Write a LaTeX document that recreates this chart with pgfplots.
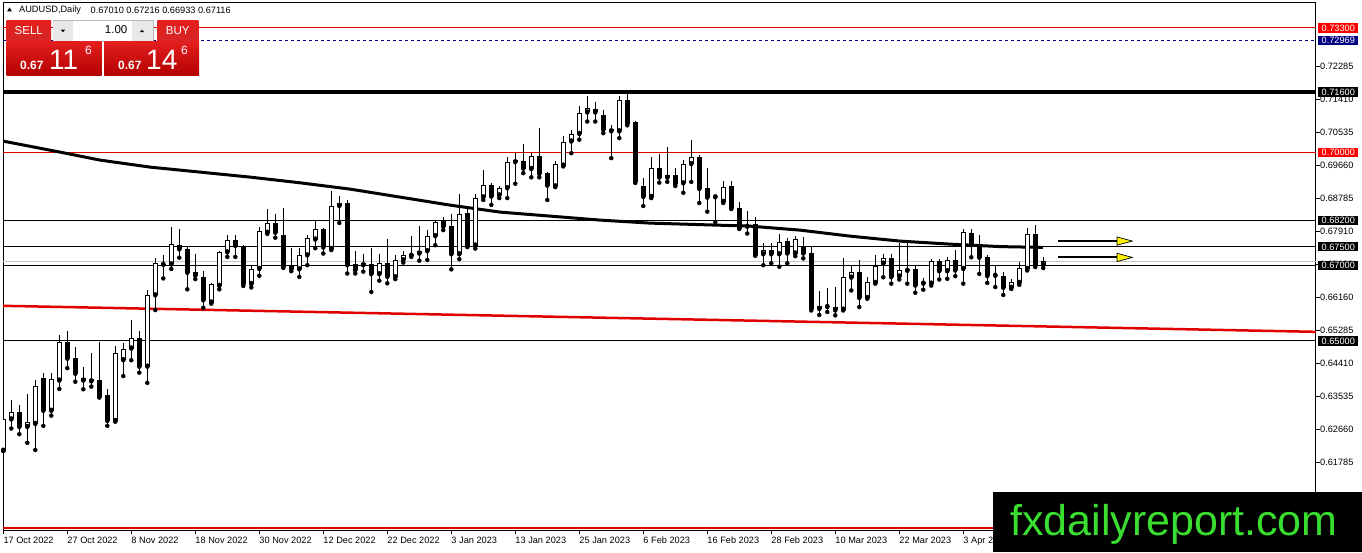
\documentclass[border=0pt]{standalone}
\usepackage{pgfplots}
\pgfplotsset{compat=1.18}
\usepackage{pgfplotstable}
\usepackage{fontspec}
\setmainfont{Liberation Sans}
\usetikzlibrary{arrows.meta}
\definecolor{mtred}{RGB}{225,0,0}
\definecolor{tagred}{RGB}{255,0,0}
\definecolor{navyblue}{RGB}{0,0,128}
\definecolor{wmgreen}{RGB}{58,222,48}
\definecolor{btnhead}{RGB}{214,38,38}
\definecolor{btntop}{RGB}{228,30,30}
\definecolor{btnbot}{RGB}{178,0,0}

\pgfplotstableread{
i o h l c
0 .6209 .6317 .6208 .6292
1 .6292 .6343 .6268 .6312
2 .6313 .6330 .6253 .6272
3 .6272 .6359 .6230 .6284
4 .6280 .6396 .6211 .6380
5 .6401 .6414 .6275 .6315
6 .6315 .6414 .6302 .6398
7 .6395 .6516 .6373 .6498
8 .6498 .6526 .6428 .6453
9 .6454 .6483 .6392 .6413
10 .6403 .6430 .6372 .6395
11 .6398 .6467 .6379 .6393
12 .6396 .6498 .6350 .6352
13 .6356 .6374 .6275 .6288
14 .6288 .6486 .6286 .6467
15 .6449 .6494 .6407 .6480
16 .6480 .6555 .6449 .6507
17 .6507 .6526 .6416 .6432
18 .6432 .6635 .6389 .6621
19 .6621 .6721 .6582 .6706
20 .6705 .6728 .6666 .6702
21 .6703 .6801 .6691 .6756
22 .6754 .6797 .6721 .6743
23 .6744 .6748 .6637 .6681
24 .6682 .6732 .6664 .6673
25 .6669 .6685 .6588 .6608
26 .6602 .6655 .6599 .6651
27 .6646 .6738 .6637 .6735
28 .6735 .6781 .6723 .6768
29 .6768 .6781 .6723 .6752
30 .6750 .6754 .6646 .6651
31 .6651 .6701 .6642 .6691
32 .6691 .6801 .6673 .6791
33 .6787 .6850 .6784 .6812
34 .6812 .6838 .6774 .6787
35 .6781 .6854 .6694 .6697
36 .6699 .6746 .6685 .6690
37 .6690 .6746 .6670 .6727
38 .6727 .6782 .6701 .6772
39 .6769 .6818 .6746 .6796
40 .6796 .6799 .6732 .6748
41 .6744 .6898 .6741 .6858
42 .6858 .6884 .6813 .6865
43 .6866 .6874 .6679 .6701
44 .6703 .6739 .6679 .6687
45 .6706 .6732 .6684 .6701
46 .6703 .6746 .6630 .6677
47 .6677 .6730 .6660 .6708
48 .6708 .6770 .6653 .6670
49 .6669 .6728 .6664 .6715
50 .6714 .6739 .6708 .6727
51 .6726 .6778 .6723 .6732
52 .6732 .6805 .6713 .6738
53 .6738 .6794 .6715 .6778
54 .6778 .6821 .6754 .6815
55 .6819 .6829 .6794 .6803
56 .6805 .6838 .6690 .6730
57 .6730 .6890 .6717 .6838
58 .6840 .6856 .6749 .6752
59 .6753 .6890 .6745 .6879
60 .6881 .6954 .6874 .6913
61 .6913 .6919 .6861 .6883
62 .6886 .6910 .6879 .6905
63 .6905 .6988 .6879 .6974
64 .6974 .6998 .6917 .6980
65 .6978 .7022 .6945 .6957
66 .6956 .6998 .6934 .6990
67 .6990 .7066 .6934 .6943
68 .6945 .6947 .6874 .6912
69 .6910 .6978 .6908 .6969
70 .6965 .7043 .6963 .7029
71 .7029 .7060 .6998 .7049
72 .7049 .7122 .7034 .7104
73 .7106 .7149 .7082 .7118
74 .7115 .7133 .7082 .7106
75 .7100 .7112 .7051 .7060
76 .7063 .7072 .6985 .7056
77 .7056 .7149 .7038 .7138
78 .7138 .7157 .7072 .7076
79 .7082 .7084 .6919 .6922
80 .6911 .6932 .6858 .6882
81 .6882 .6988 .6879 .6960
82 .6960 .6997 .6920 .6933
83 .6933 .7015 .6922 .6940
84 .6940 .6960 .6911 .6916
85 .6918 .6980 .6893 .6969
86 .6969 .7033 .6922 .6987
87 .6988 .6993 .6866 .6903
88 .6905 .6958 .6843 .6880
89 .6882 .6884 .6815 .6881
90 .6869 .6924 .6866 .6909
91 .6911 .6924 .6850 .6852
92 .6852 .6869 .6797 .6799
93 .6807 .6844 .6785 .6803
94 .6809 .6828 .6726 .6728
95 .6730 .6761 .6701 .6741
96 .6741 .6761 .6706 .6730
97 .6730 .6785 .6697 .6763
98 .6765 .6772 .6706 .6732
99 .6732 .6778 .6725 .6770
100 .6752 .6776 .6719 .6732
101 .6734 .6749 .6581 .6585
102 .6585 .6632 .6569 .6593
103 .6592 .6640 .6577 .6590
104 .6591 .6643 .6568 .6581
105 .6583 .6720 .6581 .6669
106 .6668 .6700 .6634 .6683
107 .6683 .6714 .6590 .6614
108 .6614 .6669 .6612 .6656
109 .6654 .6727 .6652 .6700
110 .6705 .6731 .6669 .6720
111 .6720 .6730 .6652 .6669
112 .6671 .6760 .6663 .6687
113 .6690 .6760 .6652 .6686
114 .6690 .6702 .6628 .6647
115 .6656 .6667 .6636 .6652
116 .6652 .6718 .6647 .6711
117 .6711 .6718 .6663 .6685
118 .6685 .6722 .6665 .6714
119 .6714 .6740 .6672 .6687
120 .6691 .6796 .6652 .6789
121 .6786 .6798 .6722 .6754
122 .6754 .6780 .6678 .6721
123 .6724 .6729 .6654 .6672
124 .6674 .6700 .6643 .6673
125 .6672 .6683 .6622 .6641
126 .6641 .6665 .6638 .6656
127 .6654 .6709 .6649 .6693
128 .6691 .6799 .6687 .6783
129 .6783 .6808 .6696 .6701
130 .67010 .67216 .66933 .67116
}\candles

\pgfplotstableread{
i p
-0.04 0.70301
7.09 0.70009
12.09 0.69797
18.34 0.69611
24.59 0.69479
30.84 0.69346
37.09 0.69195
43.34 0.69028
49.59 0.68816
55.84 0.68603
62.09 0.68418
68.34 0.68312
74.59 0.68206
80.84 0.68126
87.09 0.68086
93.34 0.68046
99.59 0.67940
105.84 0.67781
112.09 0.67649
118.34 0.67569
124.59 0.67503
129.96 0.67482
}\maline

\tikzset{pricetag/.style={anchor=west, xshift=2pt, text=white, inner xsep=3.5pt, inner ysep=1.4pt,
  text height=6.7pt, text depth=0pt, font=\fontsize{9.2}{10}\selectfont}}

\begin{document}
\begin{tikzpicture}[x=1pt,y=1pt]
\fill[white] (0,0) rectangle (1362,552);
\begin{axis}[
  at={(3pt,22pt)}, anchor=south west,
  scale only axis, width=1313pt, height=527pt,
  xmin=-0.0375, xmax=164.09, ymin=0.59988, ymax=0.73963,
  clip mode=individual,
  axis line style={black, line width=1pt},
  tick align=outside, major tick length=4pt,
  every tick/.style={black, line width=0.8pt},
  xtick pos=bottom, ytick pos=right, yticklabel pos=right,
  xtick={0,8,...,120},
  xticklabels={17 Oct 2022,27 Oct 2022,8 Nov 2022,18 Nov 2022,30 Nov 2022,12 Dec 2022,22 Dec 2022,3 Jan 2023,13 Jan 2023,25 Jan 2023,6 Feb 2023,16 Feb 2023,28 Feb 2023,10 Mar 2023,22 Mar 2023,3 Apr 2023},
  xticklabel style={anchor=north west, inner sep=0pt, xshift=0pt, yshift=-3pt, font=\fontsize{9.2}{10}\selectfont},
  ytick={0.61785,0.62660,0.63535,0.64410,0.65285,0.66160,0.67035,0.67910,0.68785,0.69660,0.70535,0.71410,0.72285},
  yticklabels={0.61785,0.62660,0.63535,0.64410,0.65285,0.66160,0.67035,0.67910,0.68785,0.69660,0.70535,0.71410,0.72285},
  yticklabel style={anchor=west, inner sep=0pt, xshift=0pt, font=\fontsize{9.2}{10}\selectfont},
]
% horizontal levels
\addplot[mtred, line width=1pt] coordinates {(-0.0375,0.7330) (164.09,0.7330)};
\addplot[navyblue, line width=1pt, dash pattern=on 3pt off 3pt] coordinates {(-0.0375,0.72969) (164.09,0.72969)};
\addplot[black, line width=4pt] coordinates {(-0.0375,0.7160) (164.09,0.7160)};
\addplot[mtred, line width=1pt] coordinates {(-0.0375,0.7000) (164.09,0.7000)};
\addplot[black, line width=1pt] coordinates {(-0.0375,0.6820) (164.09,0.6820)};
\addplot[black, line width=1pt] coordinates {(-0.0375,0.6750) (164.09,0.6750)};
\addplot[gray!45, line width=1pt] coordinates {(-0.0375,0.67116) (164.09,0.67116)};
\addplot[black, line width=1pt] coordinates {(-0.0375,0.6700) (164.09,0.6700)};
\addplot[black, line width=1pt] coordinates {(-0.0375,0.6500) (164.09,0.6500)};
\addplot[mtred, line width=2pt] coordinates {(-0.0375,0.6004) (164.09,0.6004)};
% red trend line
\addplot[mtred, line width=2.5pt] coordinates {(-0.0375,0.65933) (164.09,0.65243)};
% moving average
\addplot[black, line width=3pt, line join=round] table[x=i, y=p] {\maline};
% wicks
\addplot[only marks, mark=none, error bars/.cd, y dir=plus, y explicit, error mark=none,
  error bar style={draw=black, line width=1pt}]
  table[x=i, y=l, y error plus expr={\thisrow{h}-\thisrow{l}}] {\candles};
% bodies
\addplot[only marks, mark=none, error bars/.cd, y dir=plus, y explicit, error mark=none,
  error bar style={draw=black, line width=5pt}]
  table[x=i, y expr={min(\thisrow{o},\thisrow{c})}, y error plus expr={max(abs(\thisrow{c}-\thisrow{o}),0.00027)}] {\candles};
% white interiors of rising candles
\addplot[only marks, mark=none, error bars/.cd, y dir=plus, y explicit, error mark=none,
  error bar style={draw=white, line width=3pt}]
  table[x=i, y expr={min(\thisrow{o},\thisrow{c})+0.000265}, y error plus expr={max(\thisrow{c}-\thisrow{o}-0.00053,0)}] {\candles};
% arrows
\addplot[black, line width=2pt, -{Triangle[length=17pt, width=9pt, fill=yellow, line width=0.7pt]}] coordinates {(131.8,0.6765) (141.3,0.6765)};
\addplot[black, line width=2pt, -{Triangle[length=17pt, width=9pt, fill=yellow, line width=0.7pt]}] coordinates {(131.8,0.67216) (141.3,0.67216)};
% tag anchors
\coordinate (t1) at (axis cs:164.09,0.7330);
\coordinate (t2) at (axis cs:164.09,0.72969);
\coordinate (t3) at (axis cs:164.09,0.7160);
\coordinate (t4) at (axis cs:164.09,0.7000);
\coordinate (t5) at (axis cs:164.09,0.6820);
\coordinate (t6) at (axis cs:164.09,0.6750);
\coordinate (t7) at (axis cs:164.09,0.6700);
\coordinate (t8) at (axis cs:164.09,0.6500);
\end{axis}
% price tags
\node[pricetag, fill=tagred] at (t1) {0.73300};
\node[pricetag, fill=navyblue] at (t2) {0.72969};
\node[pricetag, fill=black] at (t3) {0.71600};
\node[pricetag, fill=tagred] at (t4) {0.70000};
\node[pricetag, fill=black] at (t5) {0.68200};
\node[pricetag, fill=black] at (t6) {0.67500};
\node[pricetag, fill=black] at (t7) {0.67000};
\node[pricetag, fill=black] at (t8) {0.65000};
% header
\fill[black] (7,540.5) -- (12,540.5) -- (9.5,544.5) -- cycle;
\node[anchor=west, inner sep=0pt, font=\fontsize{9.2}{10}\selectfont] at (19,541.5) {AUDUSD,Daily};
\node[anchor=west, inner sep=0pt, font=\fontsize{9.2}{10}\selectfont] at (90.5,541.5) {0.67010 0.67216 0.66933 0.67116};
% one click panel
\shade[top color=btntop, bottom color=btnhead] (6.7,510.3) rectangle (51,531.3);
\draw[white!75!red, line width=0.6pt] (10,510.8) -- (48,510.8);
\node[white, font=\fontsize{11.5}{12}\selectfont] at (28.8,521) {SELL};
\shade[top color=btntop, bottom color=btnhead] (157.3,510.3) rectangle (198.3,531.3);
\draw[white!75!red, line width=0.6pt] (160,510.8) -- (196,510.8);
\node[white, font=\fontsize{11.5}{12}\selectfont] at (177.8,521) {BUY};
\draw[fill=white, draw=gray!55] (52.7,510.3) rectangle (153.3,531.3);
\fill[gray!18] (53.3,511) rectangle (73.3,530.6);
\fill[gray!18] (132.3,511) rectangle (152.6,530.6);
\fill[black] (60.8,522.3) -- (65.2,522.3) -- (63,519.8) -- cycle;
\fill[black] (139.8,519.8) -- (144.2,519.8) -- (142,522.3) -- cycle;
\node[anchor=east, inner sep=0pt, font=\fontsize{11.5}{12}\selectfont] at (127.5,522) {1.00};
\shade[top color=btntop, bottom color=btnbot] (6.7,476) rectangle (101.7,510.3);
\shade[top color=btntop, bottom color=btnbot] (104.3,476) rectangle (199,510.3);
\node[white, anchor=base west, inner sep=0pt, font=\bfseries\fontsize{12}{12}\selectfont] at (20,482) {0.67};
\node[white, anchor=base west, inner sep=0pt, font=\fontsize{28}{28}\selectfont] at (49,482) {11};
\node[white, anchor=base west, inner sep=0pt, font=\fontsize{12}{12}\selectfont] at (85,497) {6};
\node[white, anchor=base west, inner sep=0pt, font=\bfseries\fontsize{12}{12}\selectfont] at (118,482) {0.67};
\node[white, anchor=base west, inner sep=0pt, font=\fontsize{28}{28}\selectfont] at (146,482) {14};
\node[white, anchor=base west, inner sep=0pt, font=\fontsize{12}{12}\selectfont] at (181,497) {6};
% watermark
\fill[black] (993,0) rectangle (1362,60);
\node[wmgreen, anchor=base west, inner sep=0pt, font=\fontsize{43}{43}\selectfont] at (1010,17) {fxdailyreport.com};
\pgfresetboundingbox
\path[use as bounding box] (0,0) rectangle (1362,552);
\end{tikzpicture}
\end{document}
